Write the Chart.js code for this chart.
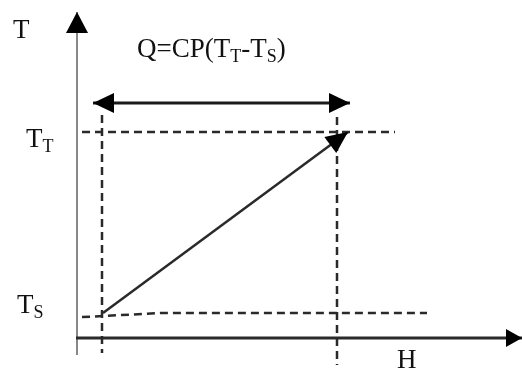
<!DOCTYPE html>
<html>
<head>
<meta charset="utf-8">
<script src="https://cdn.jsdelivr.net/npm/chart.js@4/dist/chart.umd.min.js"></script>
<style>
  body { margin: 0; background: #fff; }
  #wrap { width: 522px; height: 372px; }
</style>
</head>
<body>
<div id="wrap"><canvas id="chart"></canvas></div>
<script>
// schematic H (enthalpy) / T (temperature) values, origin at the axes crossing
const axisH = [-1, 445];          // H axis, from origin to arrow tip
const axisT = [-17, 326];         // T axis, bottom to arrow tip
const levelH = [25, 260];         // H_S, H_T guide lines
const levelT = [25, 206];         // T_S, T_T
const guideTopT = [223, 221];     // upper end of vertical guides
const guideBottomT = [-15, -27];  // lower end of vertical guides
const ttGuideH = [5, 318];        // T_T dashed line extent
const tsGuideH = [5, 27, 83, 350];
const tsGuideT = [21, 22, 25, 25];
const dutyH = [16, 273];          // Q double arrow
const dutyT = 235;
const streamH = [26, 271];        // heating line T_S -> T_T
const streamT = [25, 206];

const serif = '"Liberation Serif", "DejaVu Serif", serif';

function pts(hs, ts) {
    return hs.map((h, i) => ({ x: h, y: Array.isArray(ts) ? ts[i] : ts }));
}

const dash = [8, 5];
const datasets = [
    { data: pts(ttGuideH, levelT[1]), borderColor: "#2a2a2a", borderWidth: 2.5, borderDash: dash },
    { data: pts(tsGuideH, tsGuideT), borderColor: "#2a2a2a", borderWidth: 2.5, borderDash: dash },
    { data: pts([levelH[0], levelH[0]], [guideTopT[0], guideBottomT[0]]), borderColor: "#2a2a2a", borderWidth: 2.5, borderDash: dash },
    { data: pts([levelH[1], levelH[1]], [guideTopT[1], guideBottomT[1]]), borderColor: "#2a2a2a", borderWidth: 2.5, borderDash: dash },
    { data: pts(axisH, 0), borderColor: "#2a2a2a", borderWidth: 3, arrowEnd: [16, 9] },
    { data: pts([0, 0], axisT), borderColor: "#888", borderWidth: 2, arrowEnd: [21, 11] },
    { data: pts(dutyH, dutyT), borderColor: "#1a1a1a", borderWidth: 3, arrowEnd: [21, 10], arrowStart: [21, 10] },
    { data: pts(streamH, streamT), borderColor: "#2a2a2a", borderWidth: 2.5, arrowEnd: [22, 10] },
];
datasets.forEach(d => {
    d.showLine = true;
    d.pointRadius = 0;
    d.borderCapStyle = "butt";
});

// text labels: [main, subscript] parts, placed at labelAt [H, T]
const labels = [
    [["T", ""]],
    [["Q=CP(T", "T"], ["-T", "S"], [")", ""]],
    [["T", "T"]],
    [["T", "S"]],
    [["H", ""]],
];
const labelAt = [[-64, 300], [60, 281], [-51, 191], [-60, 25], [320, -30]];

function head(ctx, from, to, size) {
    const a = Math.atan2(to.y - from.y, to.x - from.x);
    ctx.save();
    ctx.translate(to.x, to.y);
    ctx.rotate(a);
    ctx.beginPath();
    ctx.moveTo(0, 0);
    ctx.lineTo(-size[0], -size[1]);
    ctx.lineTo(-size[0], size[1]);
    ctx.closePath();
    ctx.fillStyle = "#000";
    ctx.fill();
    ctx.restore();
}

const decorations = {
    id: "decorations",
    afterDatasetsDraw(chart) {
        const ctx = chart.ctx;
        chart.data.datasets.forEach((d, i) => {
            const p = chart.getDatasetMeta(i).data;
            if (d.arrowEnd) head(ctx, p[p.length - 2], p[p.length - 1], d.arrowEnd);
            if (d.arrowStart) head(ctx, p[1], p[0], d.arrowStart);
        });
        const xs = chart.scales.x, ys = chart.scales.y;
        ctx.save();
        ctx.fillStyle = "#111";
        ctx.textBaseline = "alphabetic";
        ctx.textAlign = "left";
        labels.forEach((parts, i) => {
            let x = xs.getPixelForValue(labelAt[i][0]);
            const y = ys.getPixelForValue(labelAt[i][1]);
            parts.forEach(([main, sub]) => {
                ctx.font = "27px " + serif;
                ctx.fillText(main, x, y);
                x += ctx.measureText(main).width;
                if (sub) {
                    ctx.font = "18px " + serif;
                    ctx.fillText(sub, x, y + 5);
                    x += ctx.measureText(sub).width;
                }
            });
        });
        ctx.restore();
    },
};

new Chart(document.getElementById("chart"), {
    type: "scatter",
    data: { datasets: datasets },
    options: {
        responsive: true,
        maintainAspectRatio: false,
        animation: false,
        layout: { padding: 0 },
        plugins: { legend: { display: false }, tooltip: { enabled: false } },
        scales: {
            x: { type: "linear", min: -77, max: 445, display: false },
            y: { type: "linear", min: -34, max: 338, display: false },
        },
    },
    plugins: [decorations],
});
</script>
</body>
</html>
